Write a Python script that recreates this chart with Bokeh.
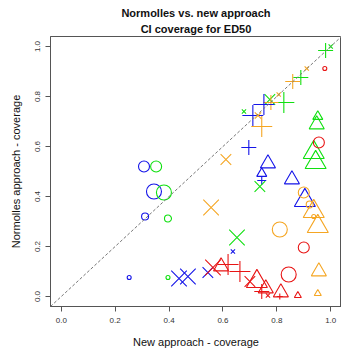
import math
from bokeh.plotting import figure
from bokeh.models import ColumnDataSource, Slope, Title, FixedTicker, NumeralTickFormatter
from bokeh.embed import file_html
from bokeh.resources import INLINE

# New approach coverage (x) vs Normolles approach coverage (y)
x_new = [0.307, 0.352, 0.344, 0.381, 0.311, 0.396, 0.252, 0.396,
         0.437, 0.470, 0.544, 0.637, 0.652, 0.556, 0.611, 0.696,
         0.767, 0.744, 0.744, 0.737, 0.856, 0.904, 0.900, 0.922,
         0.937, 0.937, 0.952, 0.937, 0.944, 0.948, 0.952, 0.956,
         0.978, 0.981, 1.000, 0.911, 0.889, 0.859, 0.826, 0.807,
         0.774, 0.778, 0.752, 0.711, 0.730, 0.744, 0.678, 0.563,
         0.593, 0.619, 0.663, 0.700, 0.726, 0.759, 0.744, 0.767,
         0.815, 0.811, 0.878, 0.844, 0.900, 0.811, 0.956, 0.952]
y_norm = [0.520, 0.520, 0.420, 0.416, 0.320, 0.312, 0.076, 0.076,
          0.072, 0.080, 0.096, 0.180, 0.236, 0.356, 0.548, 0.596,
          0.532, 0.492, 0.464, 0.440, 0.468, 0.384, 0.416, 0.368,
          0.320, 0.340, 0.280, 0.576, 0.536, 0.688, 0.720, 0.616,
          0.912, 0.984, 1.000, 0.912, 0.876, 0.860, 0.776, 0.808,
          0.788, 0.776, 0.768, 0.724, 0.724, 0.680, 0.740, 0.116,
          0.120, 0.128, 0.100, 0.060, 0.060, 0.032, 0.020, 0.004,
          0.016, 0.000, 0.004, 0.088, 0.196, 0.268, 0.100, 0.012]
groups = ["blue", "green", "blue", "green", "blue", "green", "blue", "green",
          "blue", "blue", "blue", "blue", "green", "orange", "orange", "blue",
          "blue", "blue", "blue", "green", "blue", "blue", "orange", "orange",
          "orange", "orange", "orange", "green", "green", "green", "green", "red",
          "red", "green", "green", "orange", "green", "orange", "green", "orange",
          "green", "orange", "blue", "blue", "orange", "orange", "green", "red",
          "red", "red", "red", "red", "red", "red", "red", "red",
          "red", "red", "red", "red", "red", "orange", "orange", "orange"]
shapes = ["circle", "circle", "circle", "circle", "circle", "circle", "circle", "circle",
          "x", "x", "x", "x", "x", "x", "x", "plus",
          "triangle", "triangle", "plus", "x", "triangle", "triangle", "circle", "circle",
          "circle", "triangle", "triangle", "triangle", "triangle", "triangle", "triangle", "circle",
          "circle", "plus", "x", "x", "plus", "plus", "plus", "x",
          "x", "plus", "plus", "plus", "x", "plus", "x", "x",
          "triangle", "plus", "plus", "x", "triangle", "triangle", "plus", "x",
          "triangle", "plus", "triangle", "circle", "circle", "circle", "triangle", "triangle"]
size_class = [3, 3, 4, 4, 2, 2, 1, 1,
              4, 4, 3, 1, 4, 4, 3, 3,
              3, 2, 2, 3, 3, 4, 3, 2,
              1, 4, 4, 4, 4, 3, 2, 3,
              1, 3, 1, 1, 3, 3, 4, 1,
              3, 3, 4, 4, 2, 4, 1, 4,
              3, 4, 4, 3, 4, 3, 3, 1,
              3, 1, 1, 4, 3, 4, 3, 1]
x_ticks = [0.0, 0.2, 0.4, 0.6, 0.8, 1.0]
y_ticks = [0.0, 0.2, 0.4, 0.6, 0.8, 1.0]

# styling
color_map = {"blue": "#1515E8", "green": "#10E010", "orange": "#F5A623", "red": "#E81515"}
marker_map = {"circle": "circle", "triangle": "triangle", "plus": "cross", "x": "x"}
size_map = {
    "circle": {1: 4, 2: 7, 3: 11, 4: 15},
    "triangle": {1: 7, 2: 10, 3: 15, 4: 21},
    "plus": {1: 6, 2: 9, 3: 15, 4: 21},
    "x": {1: 6, 2: 9, 3: 15, 4: 22},
}

src = ColumnDataSource(dict(
    x=x_new, y=y_norm,
    color=[color_map[g] for g in groups],
    marker=[marker_map[s] for s in shapes],
    size=[size_map[s][c] for s, c in zip(shapes, size_class)],
))

FONT = "Liberation Sans"

p = figure(width=341, height=352, x_range=(-0.04, 1.04), y_range=(-0.04, 1.04),
           output_backend="svg", toolbar_location=None,
           min_border_left=50, min_border_right=0, min_border_top=36, min_border_bottom=46,
           background_fill_color="white", border_fill_color="white")

p.title.text = "Normolles vs. new approach"
p.title.align = "center"
p.title.text_font = FONT
p.title.text_font_size = "11px"
p.title.text_font_style = "bold"
p.title.text_color = "#111111"
p.title.standoff = 1
p.title.offset = 0
t2 = Title(text="CI coverage for ED50", align="center", text_font=FONT,
           text_font_size="11px", text_font_style="bold", text_color="#111111",
           standoff=3)
p.add_layout(t2, "above")

p.grid.visible = False
p.outline_line_color = "#555555"
p.outline_line_width = 1

for ax in (p.xaxis, p.yaxis):
    ax.axis_line_color = "#555555"
    ax.major_tick_line_color = "#555555"
    ax.major_tick_out = 5
    ax.major_tick_in = 0
    ax.minor_tick_line_color = None
    ax.major_label_text_font = FONT
    ax.major_label_text_font_size = "8px"
    ax.major_label_text_color = "#333333"
    ax.axis_label_text_font = FONT
    ax.axis_label_text_font_size = "11px"
    ax.axis_label_text_font_style = "normal"
    ax.axis_label_text_color = "#111111"
    ax.formatter = NumeralTickFormatter(format="0.0")

p.xaxis.ticker = FixedTicker(ticks=x_ticks)
p.yaxis.ticker = FixedTicker(ticks=y_ticks)
p.xaxis.axis_label = "New approach - coverage"
p.yaxis.axis_label = "Normolles approach - coverage"
p.yaxis.major_label_orientation = "parallel"
p.xaxis.major_label_standoff = 6
p.yaxis.major_label_standoff = 6
p.xaxis.axis_label_standoff = 10
p.yaxis.axis_label_standoff = 10

p.add_layout(Slope(gradient=1, y_intercept=0, line_color="#777777",
                   line_dash="3 2", line_width=1))

p.scatter(x="x", y="y", source=src, marker="marker", size="size",
          line_color="color", fill_color=None, line_width=1.1)

open("out.html", "w").write(file_html(p, INLINE))
